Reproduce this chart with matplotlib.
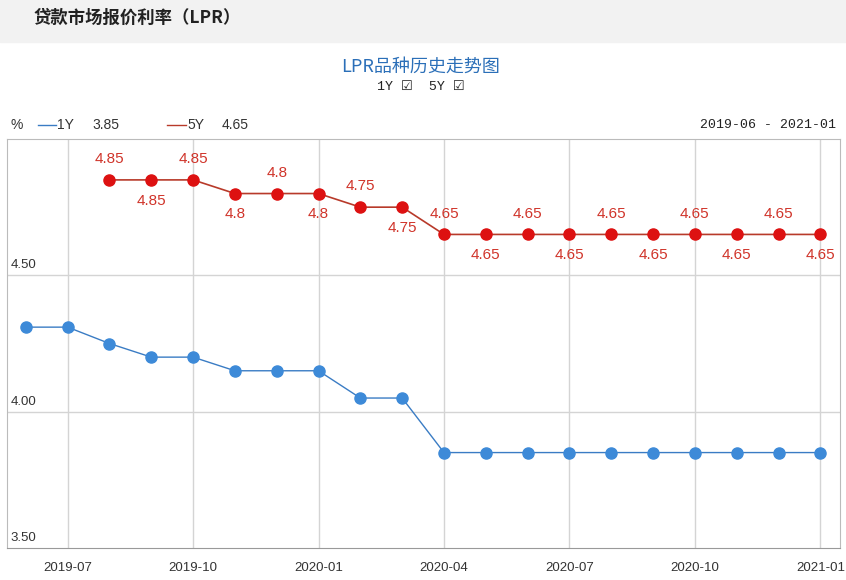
import matplotlib
matplotlib.use("Agg")
import matplotlib.pyplot as plt
from matplotlib.lines import Line2D

plt.rcParams['font.family'] = ['Noto Sans CJK SC', 'DejaVu Sans']

months = ["2019-06", "2019-07", "2019-08", "2019-09", "2019-10", "2019-11",
          "2019-12", "2020-01", "2020-02", "2020-03", "2020-04", "2020-05",
          "2020-06", "2020-07", "2020-08", "2020-09", "2020-10", "2020-11",
          "2020-12", "2021-01"]
lpr_1y = [4.31, 4.31, 4.25, 4.20, 4.20, 4.15, 4.15, 4.15, 4.05, 4.05,
          3.85, 3.85, 3.85, 3.85, 3.85, 3.85, 3.85, 3.85, 3.85, 3.85]
lpr_5y = [None, None, 4.85, 4.85, 4.85, 4.80, 4.80, 4.80, 4.75, 4.75,
          4.65, 4.65, 4.65, 4.65, 4.65, 4.65, 4.65, 4.65, 4.65, 4.65]
tick_months = ["2019-07", "2019-10", "2020-01", "2020-04", "2020-07", "2020-10", "2021-01"]
y_ticks = [3.50, 4.00, 4.50]

blue = "#3d8ad8"
blue_line = "#3a7cc4"
red = "#dd1111"
red_line = "#b83a2a"
label_red = "#d0342a"

fig = plt.figure(figsize=(8.46, 5.8), dpi=100)

# header bar
fig.patches.append(plt.Rectangle((0, 1 - 42 / 580), 1, 42 / 580, transform=fig.transFigure,
                                 color="#f2f2f2", zorder=0))
fig.text(33 / 846, 1 - 18 / 580, "贷款市场报价利率（LPR）", fontsize=12.5, fontweight="bold",
         color="#222222", va="center", ha="left")

fig.text(421 / 846, 1 - 67 / 580, "LPR品种历史走势图", fontsize=13, color="#2b6fb8",
         ha="center", va="center")
fig.text(421 / 846, 1 - 87 / 580, "1Y ☑  5Y ☑", fontsize=9.5, color="#222222",
         ha="center", va="center", family=["Liberation Mono", "DejaVu Sans"])

# legend row
fig.text(10 / 846, 1 - 125 / 580, "%", fontsize=10, color="#333333", va="center",
         family="Liberation Sans")
fig.add_artist(Line2D([38 / 846, 56 / 846], [1 - 125 / 580] * 2, color=blue_line, lw=1,
                      transform=fig.transFigure))
fig.text(57 / 846, 1 - 125 / 580, "1Y", fontsize=10, color="#333333", va="center",
         family="Liberation Sans")
fig.text(92 / 846, 1 - 125 / 580, "%.2f" % lpr_1y[-1], fontsize=10, color="#333333",
         va="center", family="Liberation Sans")
fig.add_artist(Line2D([167 / 846, 186 / 846], [1 - 125 / 580] * 2, color=red_line, lw=1,
                      transform=fig.transFigure))
fig.text(187 / 846, 1 - 125 / 580, "5Y", fontsize=10, color="#333333", va="center",
         family="Liberation Sans")
fig.text(222 / 846, 1 - 125 / 580, "%.2f" % lpr_5y[-1], fontsize=10, color="#333333",
         va="center", family="Liberation Sans")
fig.text(836 / 846, 1 - 125 / 580, months[0] + " - " + months[-1], fontsize=9.5,
         color="#222222", va="center", ha="right", family="Liberation Mono")

ax = fig.add_axes([7 / 846, 32 / 580, 833 / 846, 409 / 580])
x = list(range(len(months)))
ax.set_xlim(-0.45, 19.47)
ax.set_ylim(3.5, 5.0)

xt = [months.index(m) for m in tick_months]
for v in xt:
    ax.axvline(v, color="#d4d4d4", lw=1, zorder=1)
for v in y_ticks[1:]:
    ax.axhline(v, color="#d4d4d4", lw=1, zorder=1)

ax.plot(x, lpr_1y, color=blue_line, lw=1, zorder=2)
ax.plot(x, lpr_1y, "o", color=blue, ms=8, zorder=3)

x5 = [i for i in x if lpr_5y[i] is not None]
y5 = [lpr_5y[i] for i in x5]
ax.plot(x5, y5, color=red_line, lw=1.2, zorder=2)
ax.plot(x5, y5, "o", color=red, ms=8, zorder=3)

for k, (i, v) in enumerate(zip(x5, y5)):
    txt = ("%.2f" % v).rstrip("0")
    if k % 2 == 0:
        ax.annotate(txt, (i, v), xytext=(0, 10), textcoords="offset points", ha="center",
                    va="bottom", fontsize=11, color=label_red, family="Liberation Sans")
    else:
        ax.annotate(txt, (i, v), xytext=(0, -10), textcoords="offset points", ha="center",
                    va="top", fontsize=11, color=label_red, family="Liberation Sans")

ax.set_xticks(xt)
ax.set_xticklabels(tick_months, fontsize=9.5, color="#333333", family="Liberation Sans")
ax.tick_params(axis="x", length=0, pad=10)
ax.set_yticks([])
for v in y_ticks:
    ax.text(0.004, v + 0.015, "%.2f" % v, transform=ax.get_yaxis_transform(),
            fontsize=9.5, color="#333333", va="bottom", ha="left", family="Liberation Sans")

for s in ["left", "bottom", "top", "right"]:
    ax.spines[s].set_color("#bbbbbb")
ax.spines["bottom"].set_color("#999999")

fig.savefig("out.png", dpi=100)
